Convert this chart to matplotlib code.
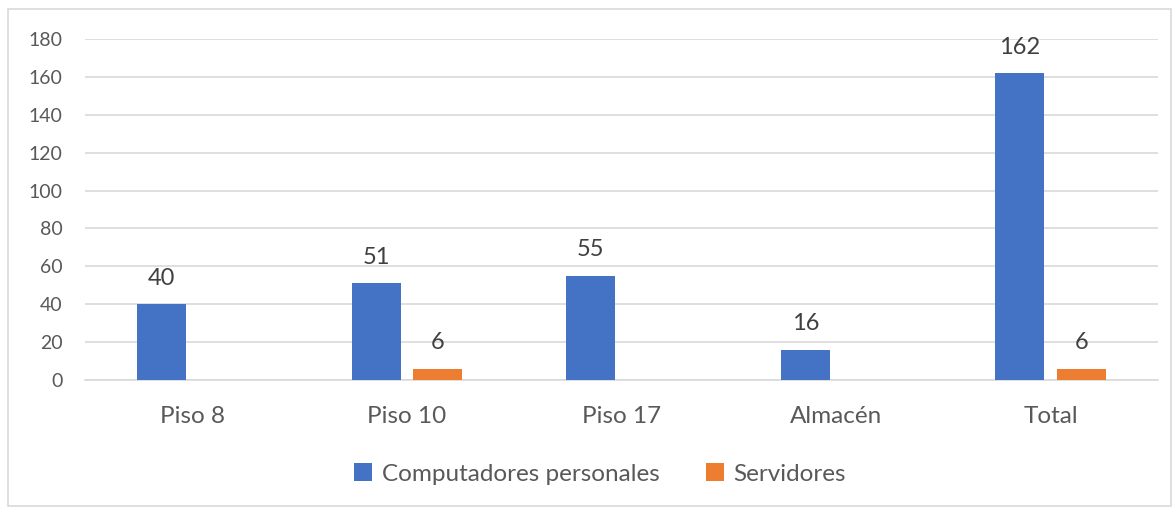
import matplotlib.pyplot as plt
import numpy as np
from matplotlib.patches import Rectangle

categories = ["Piso 8", "Piso 10", "Piso 17", "Almacén", "Total"]
computadores = [40, 51, 55, 16, 162]
servidores = [0, 6, 0, 0, 6]
yticks = [0, 20, 40, 60, 80, 100, 120, 140, 160, 180]

plt.rcParams['font.family'] = ['Lato', 'DejaVu Sans']
text_color = '#595959'
grid_color = '#d9d9d9'

fig = plt.figure(figsize=(11.74, 5.08), dpi=100)
ax = fig.add_axes([85 / 1174, 1 - 380 / 508, (1158 - 85) / 1174, (380 - 39) / 508])

x = np.arange(len(categories))
w = 0.228
off = 0.1435
b1 = ax.bar(x - off, computadores, w, color='#4472C4', label='Computadores personales', zorder=3)
b2 = ax.bar(x + off, servidores, w, color='#ED7D31', label='Servidores', zorder=3)

# data labels (skip empty values)
for bars, vals in [(b1, computadores), (b2, servidores)]:
    for rect, v in zip(bars, vals):
        if v == 0:
            continue
        ax.annotate(str(v), (rect.get_x() + rect.get_width() / 2, v),
                    xytext=(0, 14), textcoords='offset points',
                    ha='center', va='baseline', fontsize=17, color='#404040')

ax.set_xlim(-0.5, len(categories) - 0.5)
ax.set_ylim(0, 180)
ax.set_yticks(yticks)
ax.set_xticks(x)
ax.set_xticklabels(categories)
ax.tick_params(axis='y', length=0, pad=16, labelsize=14, labelcolor=text_color)
ax.tick_params(axis='x', length=0, pad=19, labelsize=17.5, labelcolor=text_color)
ax.grid(axis='y', color=grid_color, linewidth=1.2, zorder=0)
for s in ['top', 'right', 'left']:
    ax.spines[s].set_visible(False)
ax.spines['bottom'].set_color(grid_color)
ax.spines['bottom'].set_linewidth(1.2)

fig.legend(loc='center', bbox_to_anchor=(600 / 1174, 1 - 474 / 508), ncol=2,
           frameon=False, fontsize=17.5, labelcolor=text_color,
           handlelength=0.75, handleheight=0.75, handletextpad=0.4, columnspacing=1.9)

fig.patches.append(Rectangle((8 / 1174, 2 / 508), 1163 / 1174, 497 / 508,
                             transform=fig.transFigure, fill=False,
                             edgecolor=grid_color, linewidth=1.2))

fig.savefig('out.png', dpi=100)
